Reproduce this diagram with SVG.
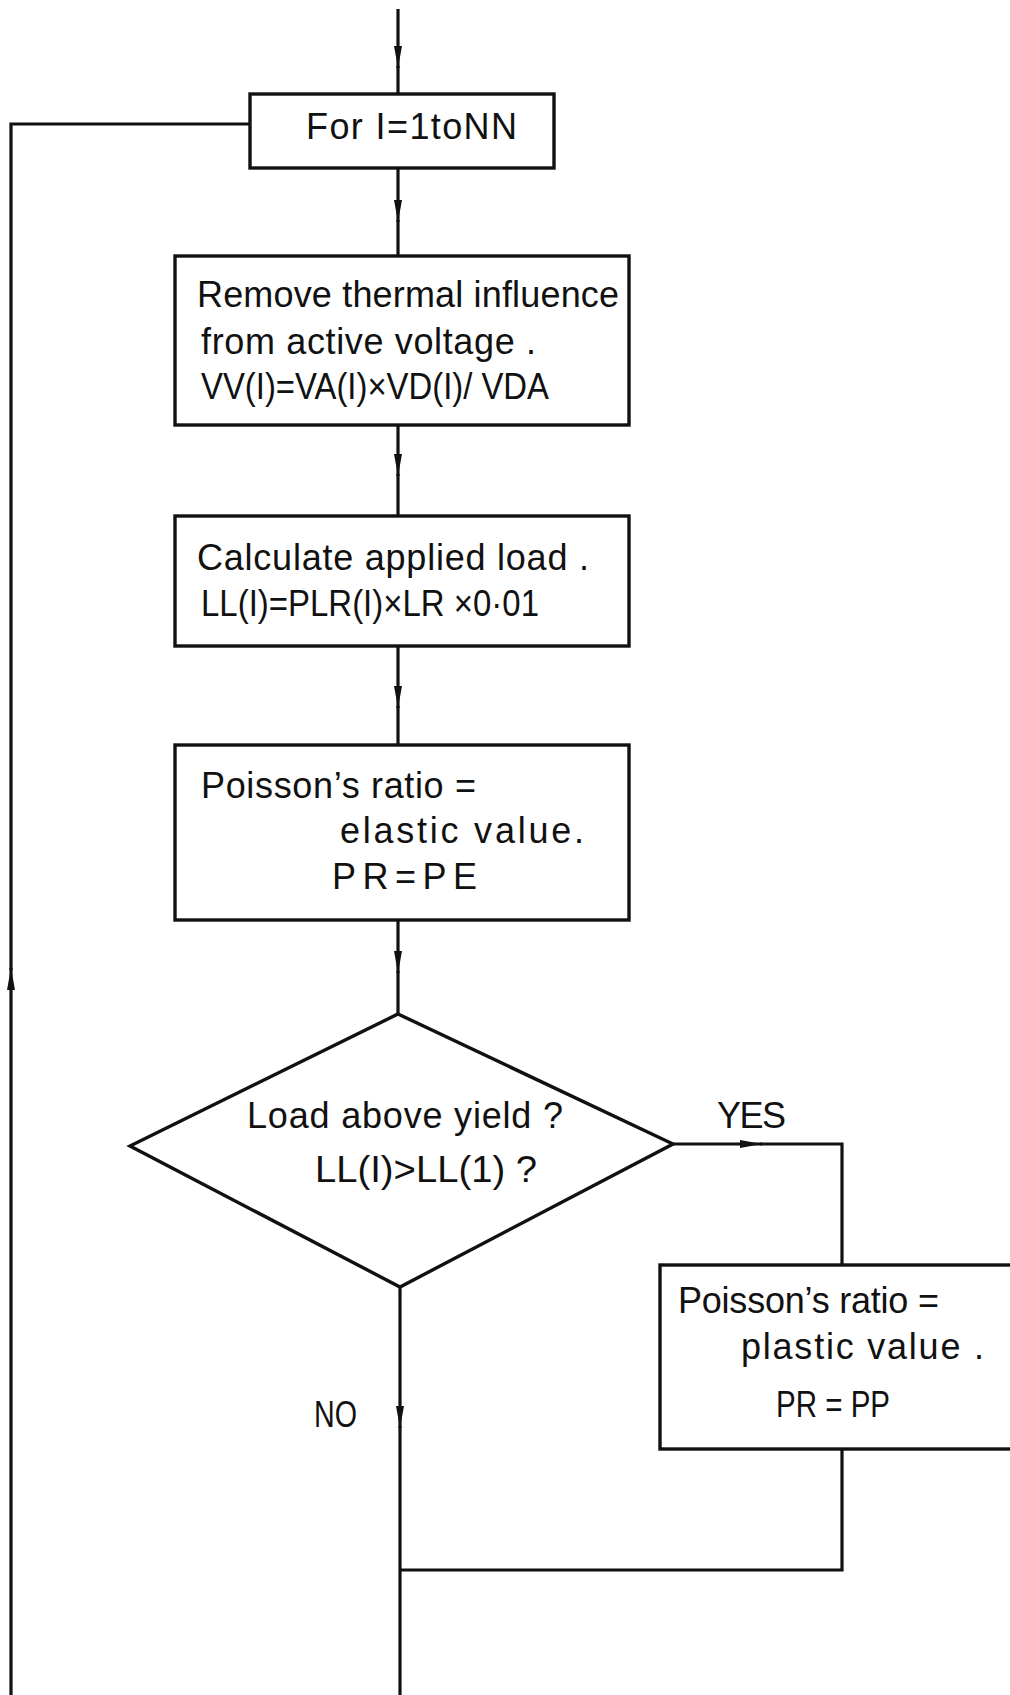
<svg xmlns="http://www.w3.org/2000/svg" width="1010" height="1695" viewBox="0 0 1010 1695">
  <style>
    .box { fill: none; stroke: #111; stroke-width: 3.4; }
    .wire { fill: none; stroke: #111; stroke-width: 3.2; }
    .t { font-family: "Liberation Sans", "DejaVu Sans", sans-serif; font-size: 36px; fill: #111; }
  </style>
  <defs>
    <marker id="ah" markerUnits="userSpaceOnUse" markerWidth="22" markerHeight="10" viewBox="0 0 22 10" refX="22" refY="5" orient="auto">
      <path d="M0,1 L22,5 L0,9 z" fill="#111"/>
    </marker>
  </defs>
  <rect width="1010" height="1695" fill="#fff"/>

  <g id="connectors">
    <!-- entry -->
    <path class="wire" d="M398 9 L398 68" marker-end="url(#ah)"/>
    <path class="wire" d="M398 66 L398 94"/>
    <!-- loop box to first process -->
    <path class="wire" d="M398 168 L398 222" marker-end="url(#ah)"/>
    <path class="wire" d="M398 220 L398 256"/>
    <path class="wire" d="M398 425 L398 476" marker-end="url(#ah)"/>
    <path class="wire" d="M398 474 L398 516"/>
    <path class="wire" d="M398 646 L398 708" marker-end="url(#ah)"/>
    <path class="wire" d="M398 706 L398 745"/>
    <path class="wire" d="M398 920 L398 973" marker-end="url(#ah)"/>
    <path class="wire" d="M398 971 L398 1014"/>
    <!-- YES branch -->
    <path class="wire" d="M673 1144 L762 1144" marker-end="url(#ah)"/>
    <path class="wire" d="M760 1144 L842 1144 L842 1265"/>
    <!-- NO branch -->
    <path class="wire" d="M400 1287 L400 1428" marker-end="url(#ah)"/>
    <path class="wire" d="M400 1426 L400 1695"/>
    <!-- plastic value rejoins -->
    <path class="wire" d="M842 1449 L842 1570 L400 1570"/>
    <!-- loop return -->
    <path class="wire" d="M11 1695 L11 968" marker-end="url(#ah)"/>
    <path class="wire" d="M11 970 L11 124 L250 124"/>
  </g>

  <g id="loop">
    <rect class="box" x="250" y="94" width="304" height="74"/>
    <text class="t" x="306" y="139" textLength="211">For I=1toNN</text>
  </g>

  <g id="remove-thermal">
    <rect class="box" x="175" y="256" width="454" height="169"/>
    <text class="t" x="197" y="307" textLength="422">Remove thermal influence</text>
    <text class="t" x="201" y="354" textLength="335">from active voltage .</text>
    <text class="t" x="201" y="399" textLength="348" lengthAdjust="spacingAndGlyphs">VV(I)=VA(I)×VD(I)/ VDA</text>
  </g>

  <g id="applied-load">
    <rect class="box" x="175" y="516" width="454" height="130"/>
    <text class="t" x="197" y="570" textLength="392">Calculate applied load .</text>
    <text class="t" x="201" y="616" textLength="338" lengthAdjust="spacingAndGlyphs">LL(I)=PLR(I)×LR ×0·01</text>
  </g>

  <g id="elastic">
    <rect class="box" x="175" y="745" width="454" height="175"/>
    <text class="t" x="201" y="798" textLength="275">Poisson’s ratio =</text>
    <text class="t" x="340" y="843" textLength="244">elastic value.</text>
    <text class="t" x="332" y="889" textLength="145">PR=PE</text>
  </g>

  <g id="yield-test">
    <polygon class="box" points="398,1014 673,1144 400,1287 130,1146"/>
    <text class="t" x="247" y="1128" textLength="316">Load above yield ?</text>
    <text class="t" x="315" y="1182" textLength="222" lengthAdjust="spacingAndGlyphs">LL(I)&gt;LL(1) ?</text>
  </g>

  <g id="labels">
    <text class="t" x="717" y="1128" textLength="69">YES</text>
    <text class="t" x="314" y="1427" textLength="43" lengthAdjust="spacingAndGlyphs">NO</text>
  </g>

  <g id="plastic">
    <rect class="box" x="660" y="1265" width="370" height="184"/>
    <text class="t" x="678" y="1313" textLength="261">Poisson’s ratio =</text>
    <text class="t" x="741" y="1359" textLength="243">plastic value .</text>
    <text class="t" x="776" y="1417" textLength="114" lengthAdjust="spacingAndGlyphs">PR = PP</text>
  </g>
</svg>
